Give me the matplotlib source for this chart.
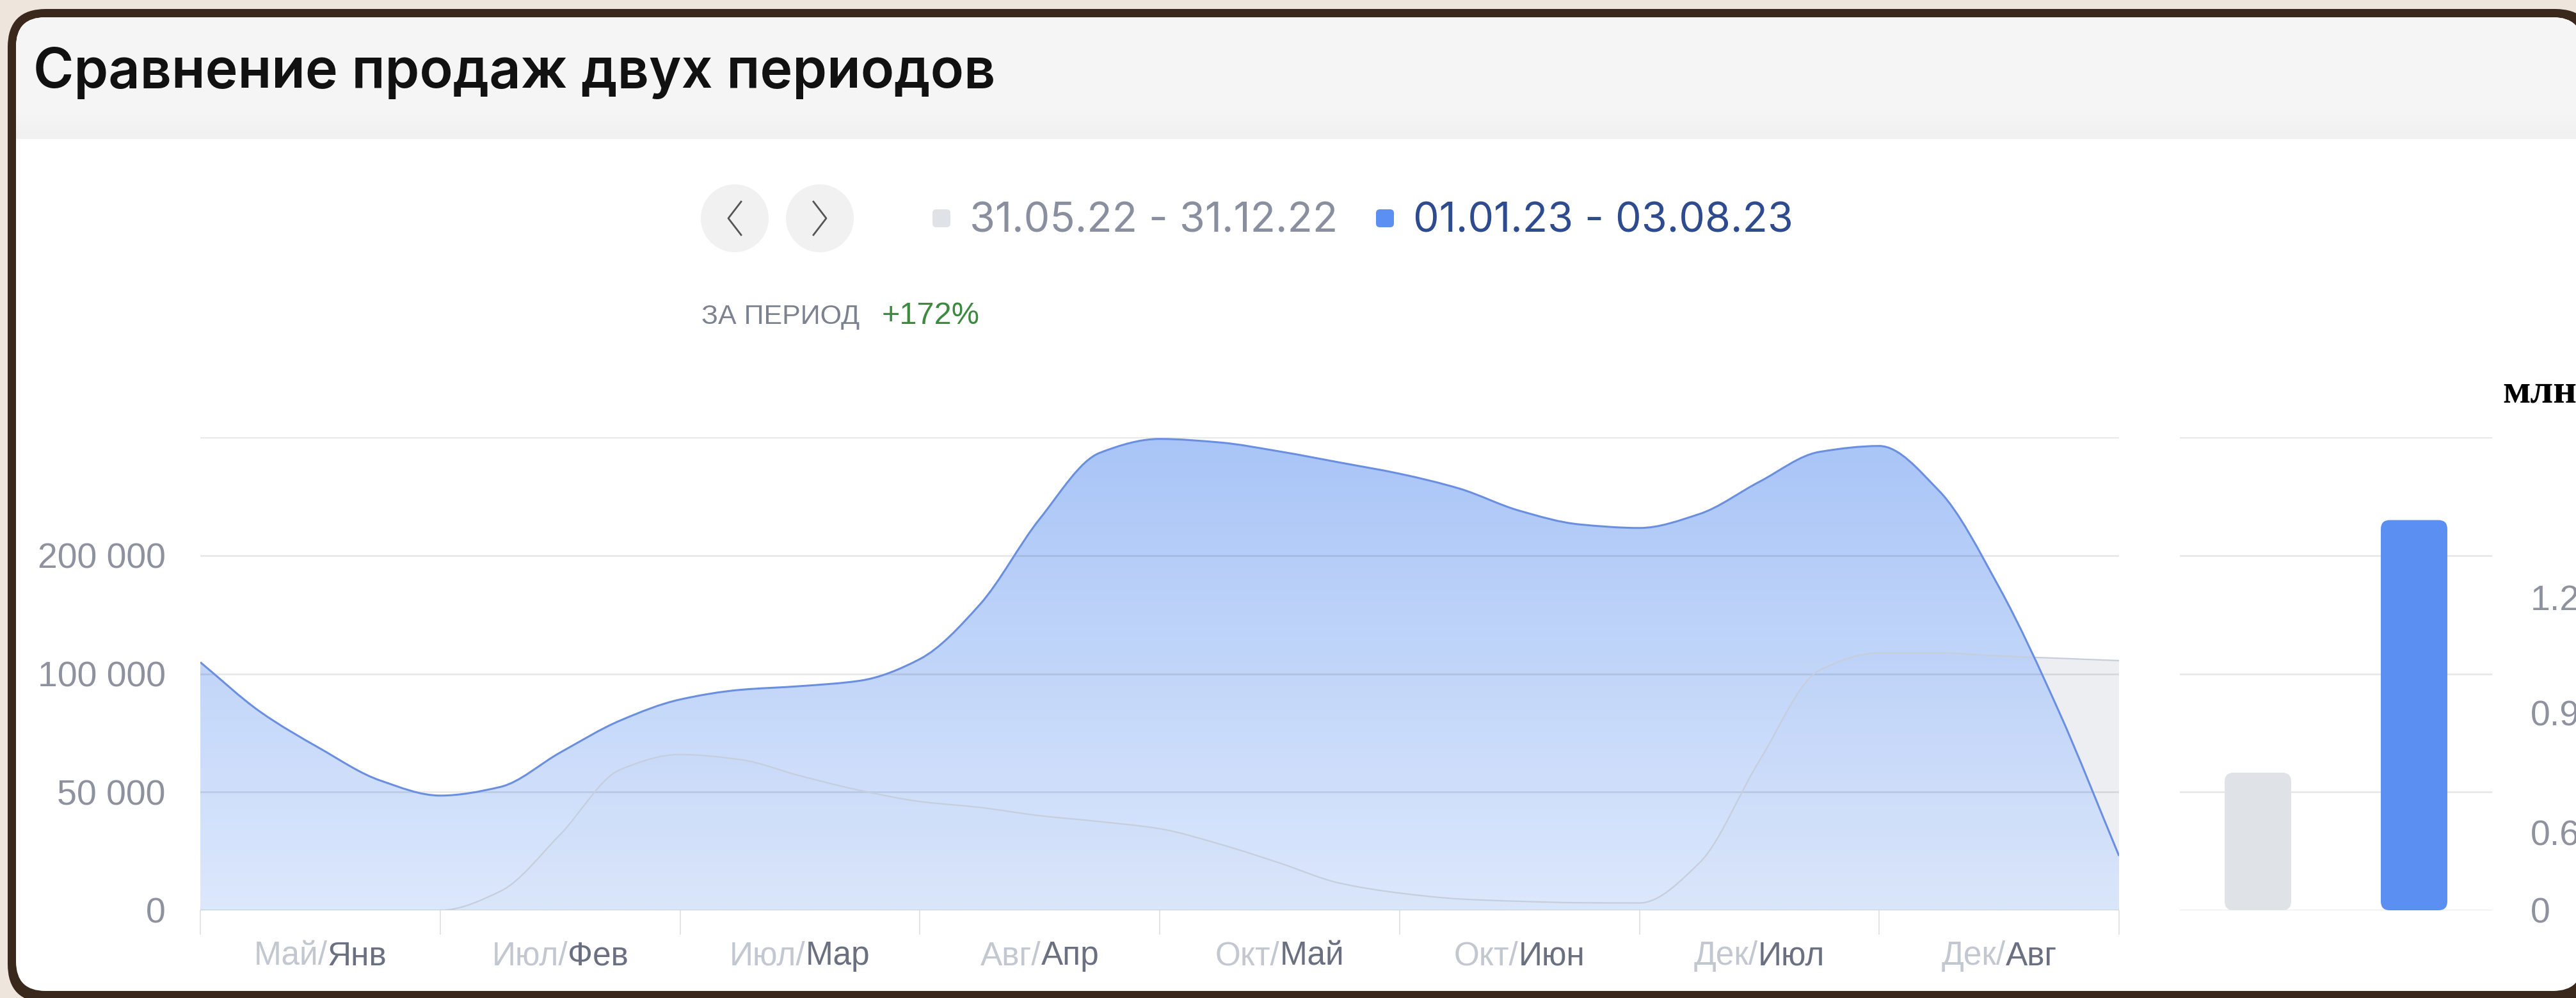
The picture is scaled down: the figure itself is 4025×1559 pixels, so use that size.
import numpy as np
import matplotlib
matplotlib.use("Agg")
import matplotlib.pyplot as plt
from matplotlib.patches import FancyBboxPatch, Circle, Rectangle, PathPatch
from matplotlib.path import Path
from matplotlib.transforms import IdentityTransform
from matplotlib.colors import LinearSegmentedColormap
from matplotlib.offsetbox import TextArea, HPacker, AnnotationBbox

plt.rcParams['font.family'] = ['Liberation Sans', 'DejaVu Sans']

# month pairs on the x axis: previous period / current period
months_prev = ["Май", "Июл", "Июл", "Авг", "Окт", "Окт", "Дек", "Дек"]
months_cur = ["Янв", "Фев", "Мар", "Апр", "Май", "Июн", "Июл", "Авг"]

# sales (evenly spaced samples across the period)
sales_cur = [107000, 80000, 64500, 53500, 48500, 51500, 63000, 76000, 86000,
             91000, 93000, 96000, 109000, 150000, 248000, 365000, 396000,
             388000, 368000, 345000, 323000, 296000, 260000, 240000, 235000,
             255000, 308000, 367000, 380000, 292000, 166000, 80000, 23000]
sales_prev = [0, 0, 0, 0, 0, 8000, 32000, 57000, 62300, 60500, 55000, 50500,
              46000, 43500, 40000, 37500, 34500, 28000, 20000, 11500, 7300,
              4800, 3800, 3200, 3100, 20000, 60000, 102000, 113000, 113000,
              111000, 109500, 108000]

period_prev = "31.05.22 - 31.12.22"
period_cur = "01.01.23 - 03.08.23"
growth = "+172%"

# totals of the two periods, millions
totals = [0.75, 1.40]

y_ticks = [0, 50000, 100000, 200000, 400000]
y_labels = ["0", "50 000", "100 000", "200 000", ""]
tot_ticks = [0, 0.6, 0.9, 1.2]
tot_labels = ["0", "0.6", "0.9", "1.2"]

W, H = 4025, 1559
C_PREV = "#dfe3e8"
C_CUR = "#5b8ff2"
C_TICK = "#8e929e"


def fwd(v):
    # 0..50k linear, then doubling per grid step
    v = np.asarray(v, dtype=float)
    return np.where(v < 50000, v / 50000, 1 + np.log2(np.maximum(v, 50000) / 50000))


def inv(g):
    g = np.asarray(g, dtype=float)
    return np.where(g < 1, g * 50000, 50000 * 2 ** (np.clip(g, None, 50) - 1))


tot_v = [0, 0.6, 0.9, 1.2, 1.615]
tot_f = [0, 0.165, 0.417, 0.662, 1.0]


def tot_fwd(v):
    return np.interp(v, tot_v, tot_f)


def tot_inv(f):
    return np.interp(f, tot_f, tot_v)


def spline(ax, xs, ys, closed=False):
    """smooth (monotone) bezier path through the points, in the axes' scaled space"""
    xs = np.asarray(xs, dtype=float)
    gs = ax.yaxis.get_transform().transform(np.asarray(ys, dtype=float))
    h = np.diff(xs)
    d = np.diff(gs) / h
    m = np.zeros(len(xs))
    m[0], m[-1] = d[0], d[-1]
    for i in range(1, len(xs) - 1):
        if d[i - 1] * d[i] > 0:
            m[i] = 2 / (1 / d[i - 1] + 1 / d[i])
    verts = [(xs[0], gs[0])]
    codes = [Path.MOVETO]
    for i in range(len(xs) - 1):
        verts += [(xs[i] + h[i] / 3, gs[i] + m[i] * h[i] / 3),
                  (xs[i + 1] - h[i] / 3, gs[i + 1] - m[i + 1] * h[i] / 3),
                  (xs[i + 1], gs[i + 1])]
        codes += [Path.CURVE4] * 3
    if closed:
        verts += [(xs[-1], 0), (xs[0], 0), (xs[0], gs[0])]
        codes += [Path.LINETO, Path.LINETO, Path.CLOSEPOLY]
    return Path(verts, codes)


fig = plt.figure(figsize=(W / 100, H / 100), dpi=100, facecolor="#eee6dc")

# page decoration in pixel coordinates
deco = fig.add_axes([0, 0, 1, 1])
deco.set_xlim(0, W)
deco.set_ylim(H, 0)
deco.axis("off")
frame = FancyBboxPatch((12, 14), 4040, 1552, boxstyle="round,pad=0,rounding_size=60",
                       fc="#3a281c", ec="none")
deco.add_patch(frame)
inner = FancyBboxPatch((25, 27), 4010, 1521, boxstyle="round,pad=0,rounding_size=46",
                       fc="white", ec="none")
deco.add_patch(inner)
head = Rectangle((25, 27), 4010, 190, fc="#f5f5f6", ec="none")
deco.add_patch(head)
head.set_clip_path(inner)
# soft lower edge of the header
head_fade = LinearSegmentedColormap.from_list("head_fade", ["#f5f5f6", "#f0f0f0"])
deco.imshow(np.linspace(0, 1, 64).reshape(-1, 1), cmap=head_fade, aspect="auto",
            extent=[25, 4035, 217, 180], origin="upper", zorder=1.1)
deco.set_xlim(0, W)
deco.set_ylim(H, 0)

deco.text(52, 137, "Сравнение продаж двух периодов", fontsize=62, color="#111111",
          family=["Inter", "Roboto", "DejaVu Sans"], weight="semibold", va="baseline",
          zorder=2)

for cx, d in [(1148, 1), (1281, -1)]:
    deco.add_patch(Circle((cx, 341), 53, fc="#f1f1f1", ec="none"))
    deco.plot([cx + 10 * d, cx - 10 * d, cx + 10 * d], [315, 341, 367], color="#555555", lw=2)

deco.add_patch(FancyBboxPatch((1457, 327), 28, 28, boxstyle="round,pad=0,rounding_size=6",
                              fc=C_PREV, ec="none"))
deco.add_patch(FancyBboxPatch((2150, 327), 28, 28, boxstyle="round,pad=0,rounding_size=6",
                              fc=C_CUR, ec="none"))
deco.text(1515, 362, period_prev, fontsize=46.5, color="#8a8fa0", va="baseline",
          family=["Inter", "DejaVu Sans"])
deco.text(2208, 362, period_cur, fontsize=46.5, color="#2d4b8e", va="baseline",
          family=["Inter", "DejaVu Sans"])
deco.text(1096, 506, "ЗА ПЕРИОД", fontsize=31, color="#7d8290", va="baseline")
deco.text(1378, 506, growth, fontsize=35, color="#3b8a3e", va="baseline")
deco.text(3910, 628, "млн", fontsize=46, color="black", weight="bold", va="baseline",
          family=["Liberation Serif", "DejaVu Serif"])

# main area chart
ax = fig.add_axes([313 / W, 1 - 1422 / H, 2998 / W, 739 / H])
ax.patch.set_alpha(0)
ax.set_yscale("function", functions=(fwd, inv))
ax.set_xlim(0, len(months_cur))
ax.set_ylim(0, 400000)
x = np.linspace(0, len(months_cur), len(sales_cur))
scaled = ax.transLimits + ax.transAxes

# previous period underneath, current period on top (slightly see-through)
ax.add_patch(PathPatch(spline(ax, x, sales_prev, closed=True), transform=scaled,
                       fc="#eceef2", ec="none", zorder=0.8))
cmap = LinearSegmentedColormap.from_list("blue_fade", ["#d8e5fc", "#9dbdf7"])
grad = np.linspace(0, 1, 256).reshape(-1, 1)
im = ax.imshow(grad, cmap=cmap, extent=[0, 1, 0, 1], transform=ax.transAxes,
               aspect="auto", origin="lower", alpha=0.88, zorder=1)
area = PathPatch(spline(ax, x, sales_cur, closed=True), transform=scaled,
                 fc="none", ec="none")
im.set_clip_path(area)

ax.add_patch(PathPatch(spline(ax, x, sales_prev), transform=scaled,
                       fc="none", ec="#c6cedc", lw=1.6, zorder=3))
ax.add_patch(PathPatch(spline(ax, x, sales_cur), transform=scaled,
                       fc="none", ec="#6a8fe0", lw=2.2, zorder=3.2))

ax.set_xlim(0, len(months_cur))
ax.set_ylim(0, 400000)
ax.set_yticks(y_ticks)
ax.set_yticklabels(y_labels)
ax.yaxis.grid(True, color="black", alpha=0.09, lw=2)
ax.set_axisbelow(False)
ax.tick_params(axis="y", length=0, pad=39, labelsize=40, labelcolor=C_TICK)
ax.set_xticks(np.arange(len(months_cur) + 1))
ax.set_xticklabels([])
ax.tick_params(axis="x", length=27, width=1.4, color="#e4e4e4", direction="out")
for s in ax.spines.values():
    s.set_visible(False)

for i, (a, b) in enumerate(zip(months_prev, months_cur)):
    box = HPacker(children=[TextArea(a + "/", textprops=dict(color="#c3c7cf", fontsize=37)),
                            TextArea(b, textprops=dict(color="#6b7080", fontsize=37))],
                  align="baseline", pad=0, sep=0)
    ab = AnnotationBbox(box, (i + 0.5, 0), xycoords=("data", "axes fraction"),
                        xybox=(0, -72), boxcoords="offset pixels",
                        box_alignment=(0.5, 0.5), frameon=False, annotation_clip=False)
    ax.add_artist(ab)

# totals bar chart
axb = fig.add_axes([3406 / W, 1 - 1422 / H, 488 / W, 739 / H])
axb.patch.set_alpha(0)
axb.set_yscale("function", functions=(tot_fwd, tot_inv))
axb.set_xlim(-0.5, 1.5)
axb.set_ylim(0, 1.615)
for f in np.linspace(0, 1, 5):
    axb.plot([0, 1], [f, f], transform=axb.transAxes, color="#e8e8e8", lw=2, zorder=0.5)
bars = axb.bar([0, 1], totals, width=0.426, color=[C_PREV, C_CUR], zorder=2)
axb.set_xlim(-0.5, 1.5)
axb.set_ylim(0, 1.615)
# round the bar corners: redraw each bar as a rounded box in pixel space
for r in bars:
    (x0, y0), (x1, y1) = axb.transData.transform(
        [(r.get_x(), 0), (r.get_x() + r.get_width(), r.get_height())])
    fig.add_artist(FancyBboxPatch((x0, y0), x1 - x0, y1 - y0,
                                  boxstyle="round,pad=0,rounding_size=14",
                                  fc=r.get_facecolor(), ec="none",
                                  transform=IdentityTransform(), zorder=3))
    r.set_visible(False)
axb.set_xticks([])
axb.yaxis.tick_right()
axb.set_yticks(tot_ticks)
axb.set_yticklabels(tot_labels)
axb.tick_params(axis="y", length=0, pad=43, labelsize=40, labelcolor=C_TICK)
for s in axb.spines.values():
    s.set_visible(False)

fig.savefig("out.png", dpi=100, facecolor=fig.get_facecolor())
